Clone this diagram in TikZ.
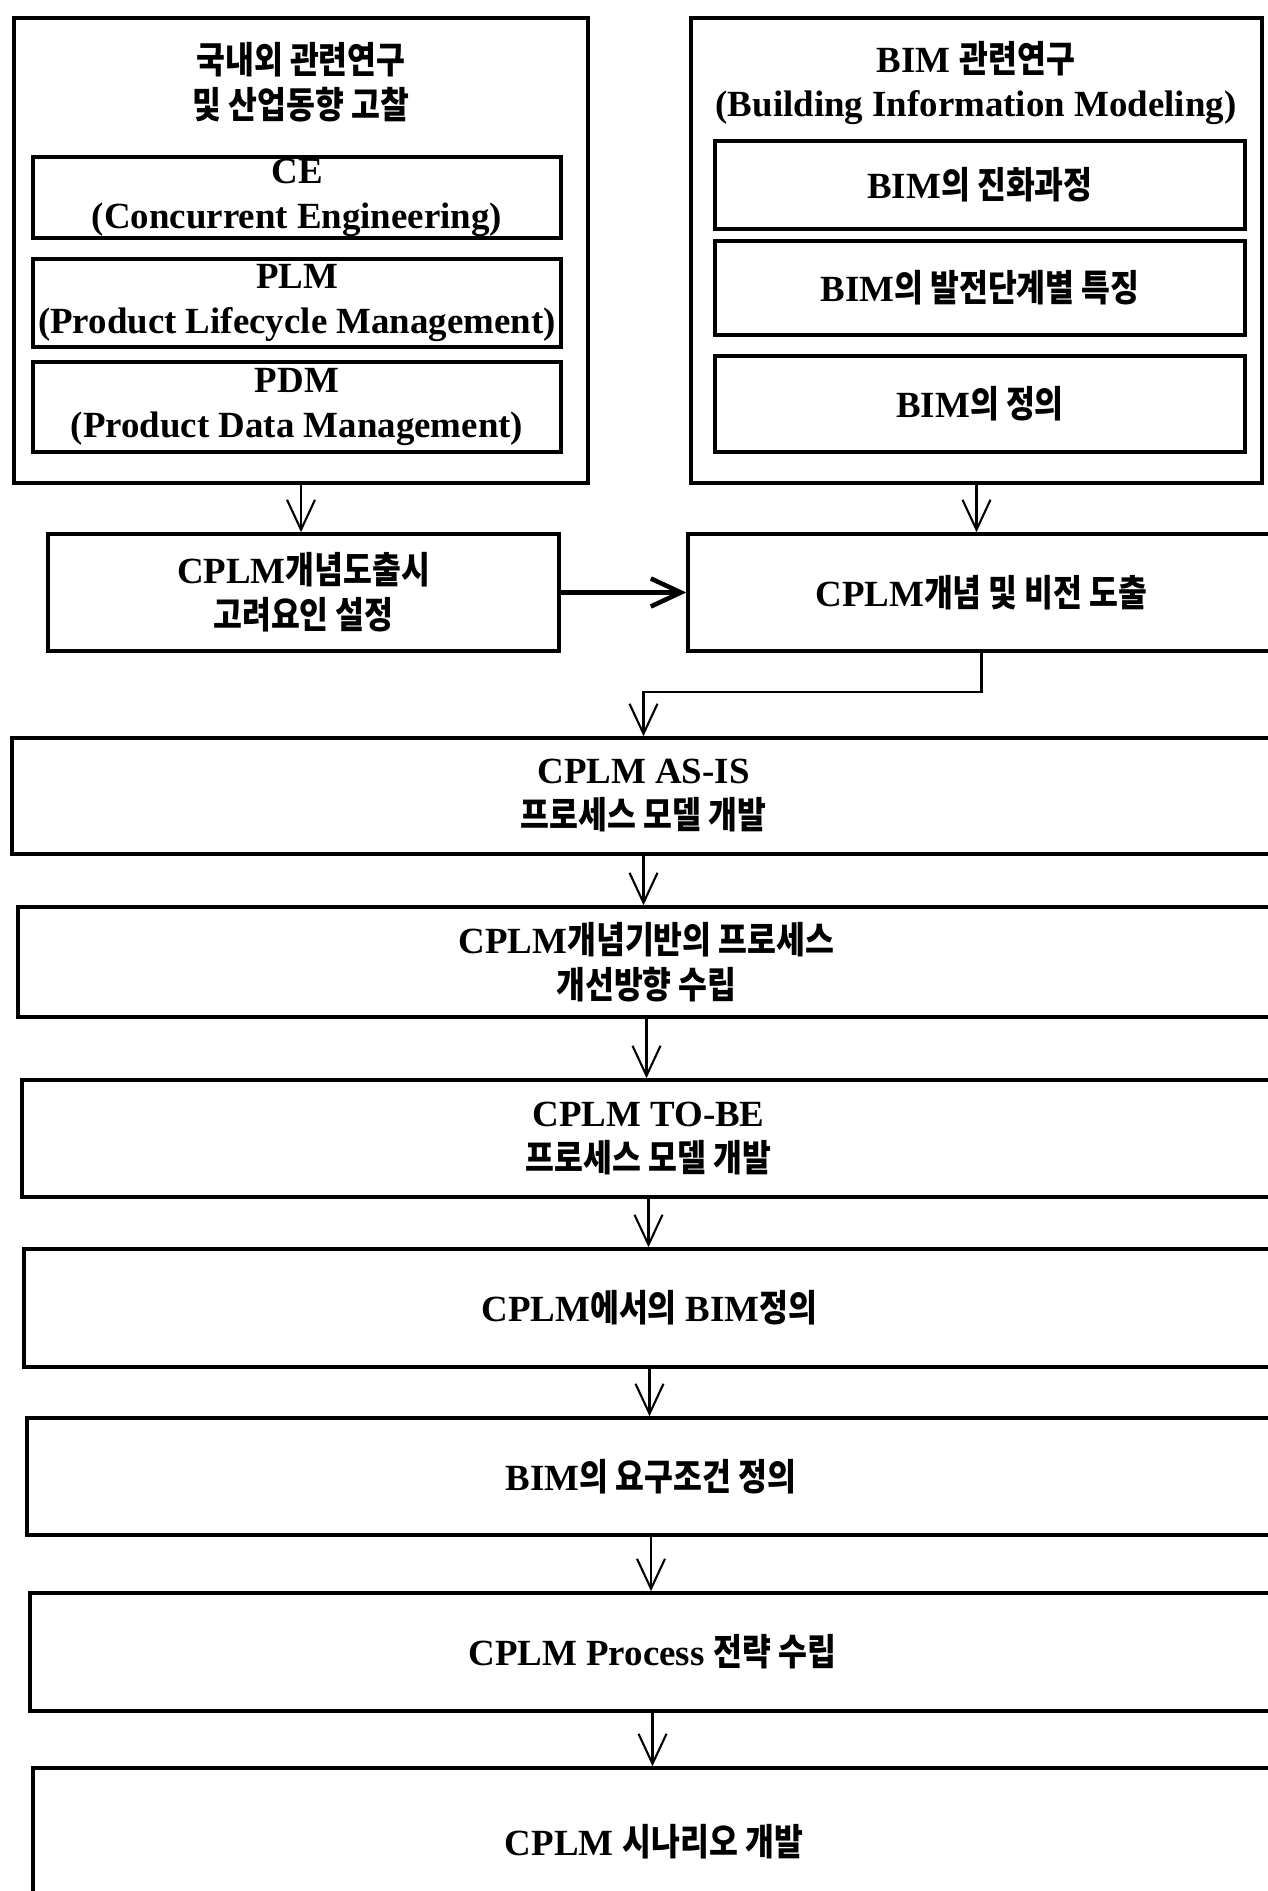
\documentclass[tikz,border=0pt]{standalone}
\usepackage{fontspec}
\setmainfont{Liberation Serif}
\newfontfamily\krfont[FakeStretch=0.85]{Noto Sans CJK KR}
\newcommand{\hg}[1]{{\krfont #1}}
\usetikzlibrary{arrows.meta}

\begin{document}
\begin{tikzpicture}[
    txt/.style={font=\fontsize{10.5}{12.8}\selectfont\bfseries, align=center},
    box/.style={txt, draw, line width=1pt, inner sep=0pt},
    arr/.style={line width=0.6pt, -{Straight Barb[length=3mm,width=2.8mm]}}
]
    % Fix the page size
    \useasboundingbox (0,0) rectangle (12.68,-18.91);

    % Left group: related research and industry trends
    \node[box, minimum width=5.74cm, minimum height=4.65cm] (lbig) at (3.01,-2.505) {};
    \node[txt] (ltitle) at (3.01,-0.82) {\hg{국내외 관련연구}\\\hg{및 산업동향 고찰}};
    \node[box, minimum width=5.28cm, minimum height=0.81cm] (ce) at (2.97,-1.975) {CE\\(Concurrent Engineering)};
    \node[box, minimum width=5.28cm, minimum height=0.88cm] (plm) at (2.97,-3.03) {PLM\\(Product Lifecycle Management)};
    \node[box, minimum width=5.28cm, minimum height=0.90cm] (pdm) at (2.97,-4.07) {PDM\\(Product Data Management)};

    % Right group: BIM research
    \node[box, minimum width=5.71cm, minimum height=4.65cm] (rbig) at (9.765,-2.505) {};
    \node[txt] (rtitle) at (9.76,-0.83) {BIM \hg{관련연구}\\(Building Information Modeling)};
    \node[box, minimum width=5.30cm, minimum height=0.88cm] (bim1) at (9.80,-1.85) {BIM\hg{의 진화과정}};
    \node[box, minimum width=5.30cm, minimum height=0.94cm] (bim2) at (9.80,-2.88) {BIM\hg{의 발전단계별 특징}};
    \node[box, minimum width=5.30cm, minimum height=0.96cm] (bim3) at (9.80,-4.04) {BIM\hg{의 정의}};

    % Concept boxes
    \node[box, minimum width=5.11cm, minimum height=1.17cm] (cons) at (3.035,-5.925) {CPLM\hg{개념도출시}\\\hg{고려요인 설정}};
    \node[box, minimum width=5.87cm, minimum height=1.17cm] (vision) at (9.815,-5.925) {CPLM\hg{개념 및 비전 도출}};

    % Process steps (right side runs off the page)
    \node[box, minimum width=12.63cm, minimum height=1.16cm] (s1) at (6.435,-7.96) {CPLM AS-IS\\\hg{프로세스 모델 개발}};
    \node[box, minimum width=12.57cm, minimum height=1.10cm] (s2) at (6.465,-9.62) {CPLM\hg{개념기반의 프로세스}\\\hg{개선방향 수립}};
    \node[box, minimum width=12.53cm, minimum height=1.17cm] (s3) at (6.485,-11.385) {CPLM TO-BE\\\hg{프로세스 모델 개발}};
    \node[box, minimum width=12.51cm, minimum height=1.18cm] (s4) at (6.495,-13.08) {CPLM\hg{에서의} BIM\hg{정의}};
    \node[box, minimum width=12.48cm, minimum height=1.17cm] (s5) at (6.51,-14.765) {BIM\hg{의 요구조건 정의}};
    \node[box, minimum width=12.45cm, minimum height=1.18cm] (s6) at (6.525,-16.52) {CPLM Process \hg{전략 수립}};
    \node[box, minimum width=12.42cm, minimum height=1.48cm] (s7) at (6.54,-18.42) {CPLM \hg{시나리오 개발}};

    % Connectors
    \draw[arr] (lbig.south) -- (lbig.south |- cons.north);
    \draw[arr] (rbig.south) -- (rbig.south |- vision.north);
    \draw[arr, line width=1.3pt] (cons.east) -- (vision.west);
    \draw[arr] (vision.south) -- ++(0,-0.39) -| (s1.north);
    \foreach \a/\b in {s1/s2,s2/s3,s3/s4,s4/s5,s5/s6,s6/s7}
        \draw[arr] (\a.south) -- (\a.south |- \b.north);
\end{tikzpicture}
\end{document}
